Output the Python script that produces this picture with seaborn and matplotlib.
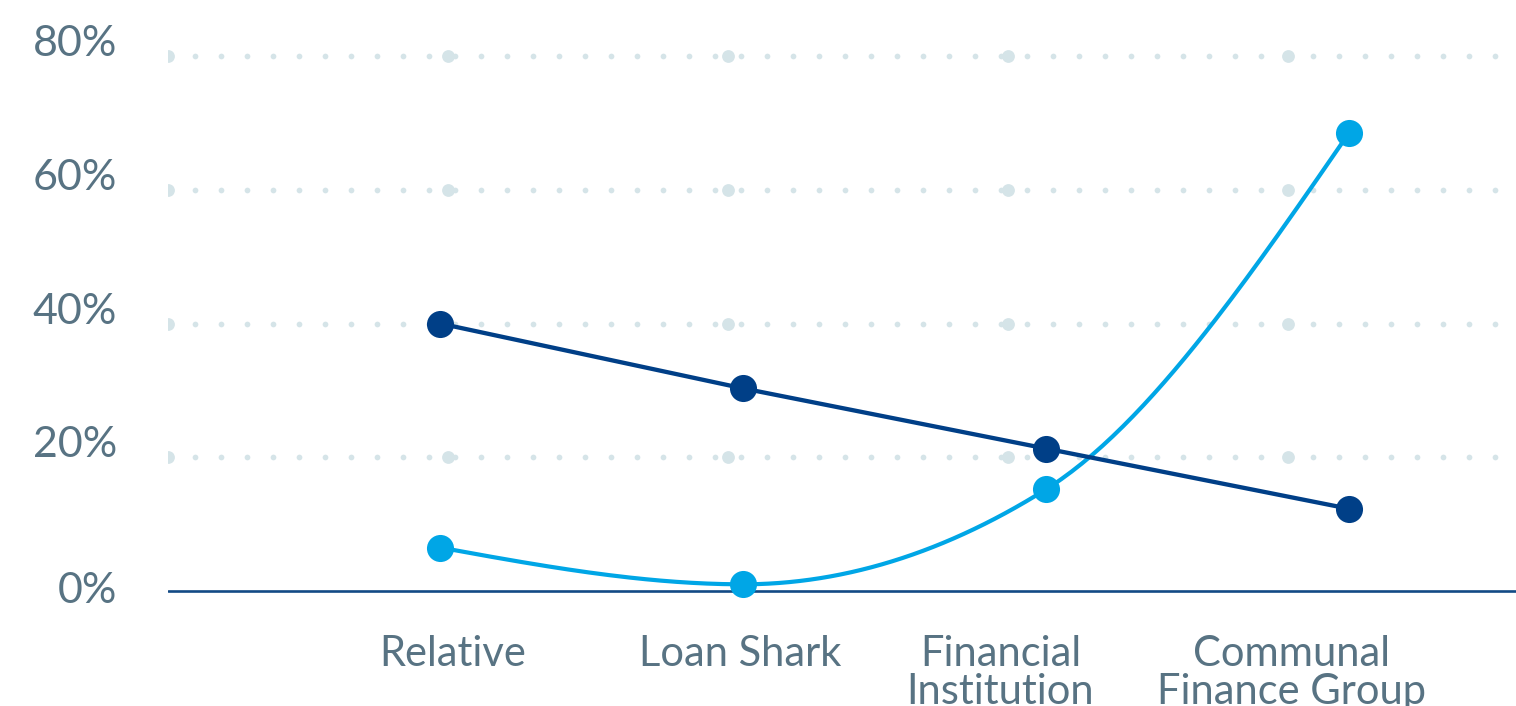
import numpy as np
import pandas as pd
import matplotlib
matplotlib.use("Agg")
import matplotlib.pyplot as plt
import seaborn as sns

# ---- data -------------------------------------------------------------
categories = ["Relative", "Loan Shark", "Financial\nInstitution", "Communal\nFinance Group"]
dark_values = [40.0, 30.3, 21.3, 12.3]     # percent
light_values = [6.5, 1.0, 15.2, 68.5]      # percent
y_ticks = [0, 20, 40, 60, 80]
y_tick_labels = ["0%", "20%", "40%", "60%", "80%"]

# ---- style ------------------------------------------------------------
DARK = "#003f87"
LIGHT = "#00a6e6"
BASE = "#124a85"
GRID = "#d5e4e8"
TEXT = "#587383"

sns.set_theme(style="white")
plt.rcParams["font.family"] = ["Lato", "DejaVu Sans"]

W, H = 1516, 706
fig = plt.figure(figsize=(W / 100, H / 100), dpi=100)

# axes geometry (pixels): plot area from x=168 to right edge, y: 0% at 591, 80% at 56
px_per_pct = (591 - 56) / 80
y_lo, y_hi = -5, 85
ax_bottom_px = 591 + (0 - y_lo) * px_per_pct
ax_top_px = 591 - y_hi * px_per_pct
left_px = 168
ax = fig.add_axes([left_px / W, (H - ax_bottom_px) / H,
                   (W - left_px) / W, (ax_bottom_px - ax_top_px) / H])

# category spacing of 303 px, first category at x=440
step_px = 303
first_px = 440
x_lo = (left_px - first_px) / step_px
x_hi = (W - first_px) / step_px
ax.set_xlim(x_lo, x_hi)
ax.set_ylim(y_lo, y_hi)

idx = np.arange(len(categories))
df = pd.DataFrame({"pos": idx, "category": categories,
                   "dark": dark_values, "light": light_values})

# ---- dotted horizontal grid -----------------------------------------
px_unit = 1 / step_px
small_x = x_lo + px_unit + np.arange(52) * 26 * px_unit
big_x = x_lo + np.arange(5) * 280 * px_unit
for yt in y_ticks[1:]:
    ax.scatter(small_x, np.full_like(small_x, yt), s=17, color=GRID, lw=0, zorder=1)
    ax.scatter(big_x, np.full_like(big_x, yt), s=85, color=GRID, lw=0, zorder=1)

# baseline
ax.axhline(0, color=BASE, lw=1.9, zorder=2)


# ---- smooth monotone curve for the light series -----------------------
def monotone_curve(x, y, n=60):
    x = np.asarray(x, float)
    y = np.asarray(y, float)
    h = np.diff(x)
    s = np.diff(y) / h
    t = np.zeros_like(y)
    for i in range(1, len(y) - 1):
        s0, s1 = s[i - 1], s[i]
        p = (s0 * h[i] + s1 * h[i - 1]) / (h[i - 1] + h[i])
        t[i] = (np.sign(s0) + np.sign(s1)) * min(abs(s0), abs(s1), 0.5 * abs(p))
    t[0] = (3 * s[0] - t[1]) / 2
    t[-1] = (3 * s[-1] - t[-2]) / 2
    xs, ys = [], []
    for i in range(len(y) - 1):
        u = np.linspace(0, 1, n)
        h00 = 2 * u**3 - 3 * u**2 + 1
        h10 = u**3 - 2 * u**2 + u
        h01 = -2 * u**3 + 3 * u**2
        h11 = u**3 - u**2
        xs.append(x[i] + u * h[i])
        ys.append(h00 * y[i] + h10 * h[i] * t[i] + h01 * y[i + 1] + h11 * h[i] * t[i + 1])
    return np.concatenate(xs), np.concatenate(ys)


cx, cy = monotone_curve(df["pos"], df["light"])
curve = pd.DataFrame({"x": cx, "y": cy})
sns.lineplot(data=curve, x="x", y="y", sort=False, estimator=None, ax=ax,
             color=LIGHT, lw=3.0, zorder=3)
sns.scatterplot(data=df, x="pos", y="light", ax=ax, color=LIGHT, s=19.5**2,
                linewidth=0, zorder=4, clip_on=False)

# dark series: straight segments with markers
sns.lineplot(data=df, x="pos", y="dark", ax=ax, color=DARK, lw=3.1,
             marker="o", markersize=19.5, markeredgewidth=0, zorder=5)

# ---- axes text ---------------------------------------------------------
label_offsets = [0.043, -0.01, -0.15, -0.19]
ax.set_xticks(idx + np.array(label_offsets))
ax.set_xticklabels(categories)
ax.set_yticks(y_ticks)
ax.set_yticklabels(y_tick_labels)
ax.tick_params(axis="x", length=0, pad=7.5, labelsize=30, labelcolor=TEXT)
ax.tick_params(axis="y", length=0, pad=36.5, labelsize=31, labelcolor=TEXT)
for lbl in ax.get_xticklabels():
    lbl.set_linespacing(1.02)
for lbl, v in zip(ax.get_yticklabels(), y_ticks):
    lbl.set_va("center" if v == 0 else "baseline")

ax.set_xlabel("")
ax.set_ylabel("")
for sp in ax.spines.values():
    sp.set_visible(False)
ax.grid(False)
ax.patch.set_alpha(0)

fig.savefig("out.png", dpi=100, facecolor="white")
